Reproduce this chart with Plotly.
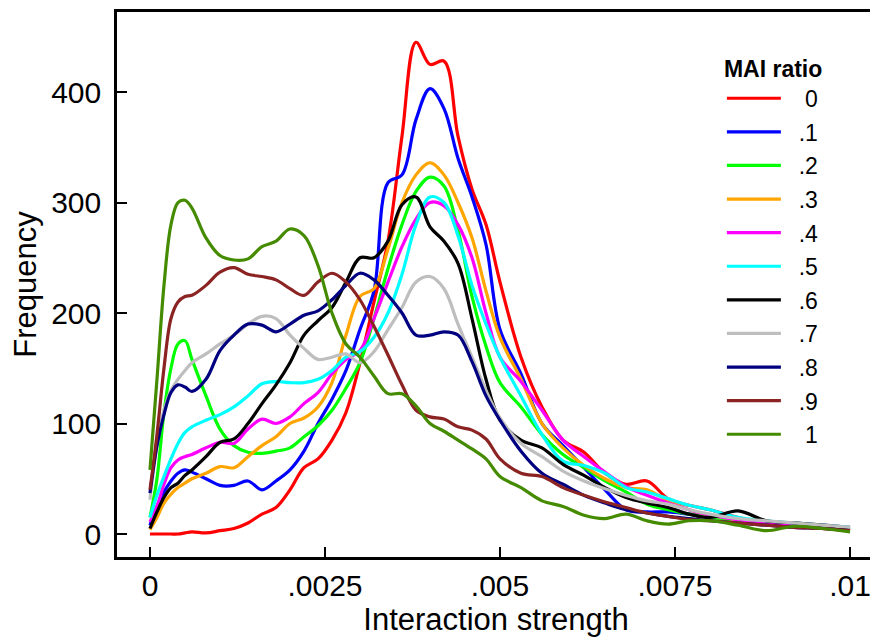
import plotly.graph_objects as go

x_strength = [0, 0.0001, 0.0002, 0.0003, 0.0004, 0.0005, 0.0006, 0.0008, 0.001, 0.0012,
              0.0014, 0.0016, 0.0018, 0.002, 0.0022, 0.0024, 0.0026, 0.0028, 0.003, 0.0032,
              0.0034, 0.0036, 0.0038, 0.004, 0.0042, 0.0044, 0.0046, 0.0048, 0.005, 0.0053,
              0.0056, 0.0059, 0.0062, 0.0065, 0.0068, 0.0071, 0.0074, 0.0077, 0.008, 0.0084,
              0.0088, 0.0092, 0.0096, 0.01]

ratio_labels = ["0", ".1", ".2", ".3", ".4", ".5", ".6", ".7", ".8", ".9", "1"]
ratio_colors = ["#ff0000", "#0000ff", "#00ff00", "#ffa500", "#ff00ff", "#00ffff",
                "#000000", "#bebebe", "#000080", "#8b2323", "#458b00"]

freq_0 = [0, 0, 0, 0, 0, 1, 2, 1, 3, 5, 10, 18, 24, 40, 60, 68, 85, 110, 155, 210,
          265, 360, 445, 425, 428, 360, 312, 280, 228, 160, 115, 85, 74, 55, 45, 48,
          32, 26, 22, 15, 10, 7, 5, 3]
freq_1 = [8, 25, 38, 48, 55, 58, 56, 50, 44, 44, 48, 40, 48, 58, 75, 100, 122, 148, 185, 220,
          318, 325, 375, 403, 385, 340, 305, 262, 185, 145, 100, 80, 60, 40, 22, 20,
          20, 18, 16, 12, 10, 8, 6, 4]
freq_2 = [15, 50, 110, 150, 172, 175, 158, 125, 95, 80, 74, 73, 75, 78, 88, 98, 112, 132, 155, 195,
          240, 280, 310, 323, 315, 275, 215, 170, 137, 115, 90, 72, 60, 48, 38, 27,
          22, 18, 15, 12, 10, 9, 8, 6]
freq_3 = [4, 15, 28, 36, 42, 46, 50, 55, 61, 60, 70, 80, 88, 100, 105, 115, 137, 180, 215, 222,
          258, 300, 325, 336, 325, 300, 268, 220, 178, 140, 100, 78, 62, 50, 42, 40,
          30, 22, 17, 13, 10, 8, 6, 4]
freq_4 = [11, 25, 45, 60, 67, 70, 72, 78, 83, 82, 95, 104, 100, 106, 118, 128, 145, 158, 166, 195,
          228, 260, 285, 300, 297, 280, 250, 200, 160, 138, 112, 85, 70, 56, 43, 35,
          28, 22, 17, 13, 10, 9, 8, 6]
freq_5 = [15, 35, 52, 68, 82, 92, 97, 103, 108, 115, 125, 136, 138, 137, 137, 140, 148, 160, 165, 178,
          200, 235, 280, 305, 300, 270, 225, 190, 160, 125, 90, 66, 62, 55, 42, 38,
          32, 26, 22, 15, 12, 10, 8, 6]
freq_6 = [5, 20, 33, 42, 46, 53, 58, 70, 83, 86, 100, 118, 135, 155, 180, 193, 205, 228, 250, 250,
          265, 298, 305, 278, 265, 245, 195, 140, 103, 85, 78, 63, 53, 42, 33, 28,
          24, 18, 15, 21, 12, 10, 8, 5]
freq_7 = [31, 80, 112, 130, 140, 148, 155, 163, 172, 180, 190, 197, 195, 180, 168, 158, 160, 163, 155, 165,
          185, 205, 228, 233, 222, 190, 160, 130, 105, 82, 70, 57, 48, 41, 35, 30,
          27, 22, 18, 14, 12, 10, 8, 6]
freq_8 = [37, 80, 108, 128, 135, 133, 129, 140, 166, 180, 190, 189, 183, 190, 198, 202, 212, 225, 236, 230,
          216, 200, 180, 180, 183, 180, 156, 125, 103, 75, 55, 45, 35, 28, 22, 19,
          16, 14, 12, 10, 8, 6, 5, 3]
freq_9 = [40, 90, 150, 195, 210, 215, 216, 225, 237, 241, 235, 233, 230, 222, 216, 228, 236, 228, 212, 188,
          162, 135, 112, 106, 104, 97, 94, 86, 68, 55, 52, 42, 35, 29, 24, 19,
          16, 13, 12, 10, 8, 6, 5, 3]
freq_10 = [58, 140, 225, 280, 300, 302, 295, 268, 252, 248, 249, 260, 265, 276, 270, 243, 200, 172, 160, 143,
           127, 127, 116, 100, 93, 85, 77, 68, 52, 42, 30, 25, 17, 14, 18, 12,
           9, 12, 12, 8, 3, 7, 5, 2]

series = [freq_0, freq_1, freq_2, freq_3, freq_4, freq_5, freq_6, freq_7, freq_8, freq_9, freq_10]

x_tick_vals = [0, 0.0025, 0.005, 0.0075, 0.01]
x_tick_text = ["0", ".0025", ".005", ".0075", ".01"]
y_tick_vals = [0, 100, 200, 300, 400]

FONT = "Liberation Sans, Arial, Helvetica, sans-serif"
NB = "\u00a0"

fig = go.Figure()
for name, color, ys in zip(ratio_labels, ratio_colors, series):
    pad = NB * (3 if len(name) == 1 else 2)
    fig.add_trace(go.Scatter(
        x=x_strength, y=ys, mode="lines", name=pad + name, legendgroup=name,
        line=dict(color=color, width=3.2, shape="spline", smoothing=1.0),
        hoverinfo="skip",
    ))

fig.update_layout(
    width=870, height=634,
    margin=dict(l=109, r=3, t=4, b=85),
    paper_bgcolor="white", plot_bgcolor="white",
    font=dict(family=FONT, color="black"),
    showlegend=True,
    legend=dict(
        title=dict(text="<b>MAI ratio</b>", font=dict(size=23, family=FONT)),
        font=dict(size=23, family=FONT),
        x=0.798, y=0.936, xanchor="left", yanchor="top",
        bgcolor="rgba(0,0,0,0)", borderwidth=0,
        tracegroupgap=0.7, itemwidth=54,
    ),
    xaxis=dict(
        range=[-0.000471, 0.010357], showgrid=False, zeroline=False, automargin=False,
        showline=True, linecolor="black", linewidth=2.5, mirror=True,
        ticks="inside", ticklen=10, tickwidth=2, tickcolor="black",
        tickvals=x_tick_vals, ticktext=x_tick_text,
        tickfont=dict(size=30, family=FONT),
        title=dict(text="Interaction strength", font=dict(size=31, family=FONT), standoff=6),
    ),
    yaxis=dict(
        range=[-20.8, 472.4], showgrid=False, zeroline=False, automargin=False,
        showline=True, linecolor="black", linewidth=2.5,
        ticks="inside", ticklen=10, tickwidth=2, tickcolor="black",
        tickvals=y_tick_vals, ticklabelstandoff=7,
        tickfont=dict(size=30, family=FONT),
        title=dict(text="Frequency", font=dict(size=31, family=FONT), standoff=6),
    ),
)

fig.write_html("out.html")
